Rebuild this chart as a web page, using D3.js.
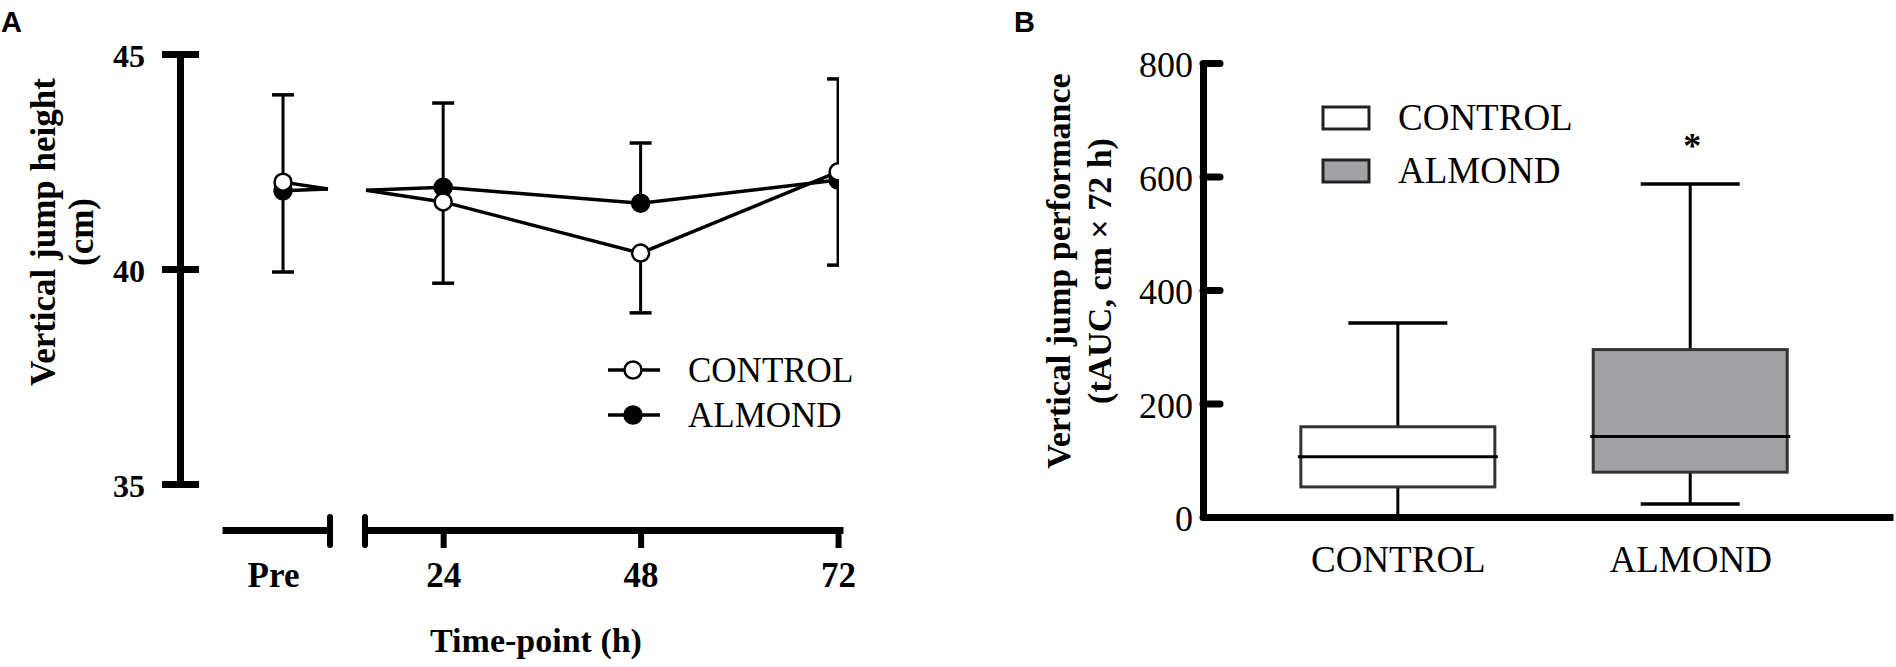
<!DOCTYPE html>
<html><head><meta charset="utf-8">
<script src="https://cdn.jsdelivr.net/npm/d3@7"></script>
<style>body{margin:0;background:#fff}svg{display:block}</style>
</head><body>
<svg id="c" width="1896" height="667"></svg>
<script>
// ---------- Panel A data ----------
const timeLabels = ["Pre", "24", "48", "72"];
const postHours = [24, 48, 72];
const controlMean = [42.02, 41.56, 40.37, 42.26];
const controlSDdown = [2.09, 1.89, 1.39, 2.17];
const almondMean = [41.82, 41.90, 41.53, 42.07];
const almondSDup = [2.23, 1.96, 1.40, 2.35];
const breakJoin = [41.86, 41.83];      // line value at left / right side of the axis break
const yTicksA = [35, 40, 45];
const seriesNames = ["CONTROL", "ALMOND"];

// ---------- Panel B data ----------
const groups = ["CONTROL", "ALMOND"];
const boxMin = [2, 23];
const boxQ1 = [53, 79];
const boxMedian = [106, 142];
const boxQ3 = [159, 295];
const boxMax = [342, 587];
const boxFill = ["#ffffff", "#a2a2a6"];
const sigMarks = ["", "*"];
const yTicksB = [0, 200, 400, 600, 800];

const svg = d3.select("#c");
const serif = "'Liberation Serif','Times New Roman',serif";
const sans = "'Liberation Sans',Arial,sans-serif";

// ================= PANEL A =================
const yA = d3.scaleLinear().domain([35, 45]).range([484, 54]);
const xPre = d3.scalePoint().domain(["Pre"]).range([222, 330]).align(0.565);
const xPost = d3.scaleLinear().domain([14.5, 72.6]).range([365, 843]);
const axisYA = 530;

svg.append("text").attr("x", 1).attr("y", 32).attr("font-family", sans)
  .attr("font-weight", "bold").attr("font-size", 29).text("A");

// y axis
const gya = svg.append("g").attr("transform", "translate(180,0)")
  .call(d3.axisLeft(yA).tickValues(yTicksA).tickSizeOuter(0).tickSizeInner(18).tickPadding(17));
gya.select(".domain").attr("stroke", "#000").attr("stroke-width", 7);
gya.selectAll(".tick line").attr("x1", 19).attr("x2", -18).attr("stroke", "#000").attr("stroke-width", 7);
gya.selectAll(".tick text").attr("font-family", serif).attr("font-weight", "bold")
  .attr("font-size", 32).attr("fill", "#000").attr("dy", "0.4em");

// x axis: Pre segment
const gxPre = svg.append("g").attr("transform", `translate(0,${axisYA})`)
  .call(d3.axisBottom(xPre).tickSizeOuter(0).tickSizeInner(0));
gxPre.select(".domain").attr("stroke", "#000").attr("stroke-width", 7);
gxPre.selectAll(".tick text").attr("font-family", serif).attr("font-weight", "bold")
  .attr("font-size", 35).attr("fill", "#000").attr("y", 57).attr("dy", 0).attr("dx", -10);
// x axis: hours segment
const gxPost = svg.append("g").attr("transform", `translate(0,${axisYA})`)
  .call(d3.axisBottom(xPost).tickValues(postHours).tickSizeOuter(0).tickSizeInner(18));
gxPost.select(".domain").attr("stroke", "#000").attr("stroke-width", 7);
gxPost.selectAll(".tick line").attr("stroke", "#000").attr("stroke-width", 6);
gxPost.selectAll(".tick text").attr("font-family", serif).attr("font-weight", "bold")
  .attr("font-size", 35).attr("fill", "#000").attr("y", 57).attr("dy", 0);
// break marks
[xPre.range()[1], xPost.range()[0]].forEach(x => {
  svg.append("line").attr("x1", x).attr("x2", x).attr("y1", axisYA - 13).attr("y2", axisYA + 15)
    .attr("stroke", "#000").attr("stroke-width", 6).attr("stroke-linecap", "round");
});

// axis titles
svg.append("text").attr("x", 536).attr("y", 652).attr("text-anchor", "middle")
  .attr("font-family", serif).attr("font-weight", "bold").attr("font-size", 34).text("Time-point (h)");
svg.append("text").attr("transform", "translate(55,232) rotate(-90)").attr("text-anchor", "middle")
  .attr("font-family", serif).attr("font-weight", "bold").attr("font-size", 35).text("Vertical jump height");
svg.append("text").attr("transform", "translate(93,232) rotate(-90)").attr("text-anchor", "middle")
  .attr("font-family", serif).attr("font-weight", "bold").attr("font-size", 35).text("(cm)");

// data
svg.append("clipPath").attr("id", "clipA").append("rect")
  .attr("x", 150).attr("y", 0).attr("width", 689).attr("height", 667);
const gA = svg.append("g").attr("clip-path", "url(#clipA)");
const xOf = i => i === 0 ? xPre("Pre") : xPost(postHours[i - 1]);
const line = d3.line().x(d => d[0]).y(d => yA(d[1]));

const series = [
  {name: "ALMOND", mean: almondMean, sd: almondSDup, dir: -1, fill: "#000"},
  {name: "CONTROL", mean: controlMean, sd: controlSDdown, dir: 1, fill: "#fff"}
];
// lines
series.forEach(s => {
  gA.append("path").attr("fill", "none").attr("stroke", "#000").attr("stroke-width", 3.5)
    .attr("d", line([[xOf(0), s.mean[0]], [xPre.range()[1] - 2, breakJoin[0]]]));
  const pts = [[xPost.range()[0] + 1, breakJoin[1]]].concat(postHours.map((h, i) => [xPost(h), s.mean[i + 1]]));
  gA.append("path").attr("fill", "none").attr("stroke", "#000").attr("stroke-width", 3.5)
    .attr("d", line(pts));
});
// error bars
series.forEach(s => {
  s.mean.forEach((m, i) => {
    const x = xOf(i), yEnd = yA(m - s.dir * s.sd[i]);
    gA.append("line").attr("x1", x).attr("x2", x).attr("y1", yA(m)).attr("y2", yEnd)
      .attr("stroke", "#000").attr("stroke-width", 3);
    gA.append("line").attr("x1", x - 11).attr("x2", x + 11).attr("y1", yEnd).attr("y2", yEnd)
      .attr("stroke", "#000").attr("stroke-width", 3.5);
  });
});
// points
series.forEach(s => {
  s.mean.forEach((m, i) => {
    gA.append("circle").attr("cx", xOf(i)).attr("cy", yA(m)).attr("r", 8.5)
      .attr("fill", s.fill).attr("stroke", "#000").attr("stroke-width", 2.5);
  });
});
// legend A
seriesNames.forEach((n, i) => {
  const y = 370 + i * 45;
  svg.append("line").attr("x1", 608).attr("x2", 660).attr("y1", y).attr("y2", y)
    .attr("stroke", "#000").attr("stroke-width", 3.5);
  svg.append("circle").attr("cx", 633).attr("cy", y).attr("r", 8.5)
    .attr("fill", i === 0 ? "#fff" : "#000").attr("stroke", "#000").attr("stroke-width", 2.5);
  svg.append("text").attr("x", 688).attr("y", y + 12).attr("font-family", serif)
    .attr("font-size", 35).text(n);
});

// ================= PANEL B =================
const yB = d3.scaleLinear().domain([0, 800]).range([517, 63]);
const xB = d3.scalePoint().domain(groups).range([1203, 1893]).padding(0.68).align(0.49);
const boxW = 194, capW = 99;

svg.append("text").attr("x", 1014).attr("y", 32).attr("font-family", sans)
  .attr("font-weight", "bold").attr("font-size", 29).text("B");

// boxes
groups.forEach((g, i) => {
  const cx = xB(g);
  svg.append("line").attr("x1", cx).attr("x2", cx).attr("y1", yB(boxQ3[i])).attr("y2", yB(boxMax[i]))
    .attr("stroke", "#000").attr("stroke-width", 3);
  svg.append("line").attr("x1", cx).attr("x2", cx).attr("y1", yB(boxQ1[i])).attr("y2", yB(boxMin[i]))
    .attr("stroke", "#000").attr("stroke-width", 3);
  [boxMax[i], boxMin[i]].forEach(v => {
    svg.append("line").attr("x1", cx - capW / 2).attr("x2", cx + capW / 2).attr("y1", yB(v)).attr("y2", yB(v))
      .attr("stroke", "#000").attr("stroke-width", 3.5);
  });
  svg.append("rect").attr("x", cx - boxW / 2).attr("y", yB(boxQ3[i])).attr("width", boxW)
    .attr("height", yB(boxQ1[i]) - yB(boxQ3[i])).attr("fill", boxFill[i])
    .attr("stroke", "#333").attr("stroke-width", 3);
  svg.append("line").attr("x1", cx - boxW / 2 - 3).attr("x2", cx + boxW / 2 + 3)
    .attr("y1", yB(boxMedian[i])).attr("y2", yB(boxMedian[i])).attr("stroke", "#000").attr("stroke-width", 3);
  if (sigMarks[i]) {
    svg.append("text").attr("x", cx + 2).attr("y", yB(boxMax[i]) - 26).attr("text-anchor", "middle")
      .attr("font-family", serif).attr("font-weight", "bold").attr("font-size", 36).text(sigMarks[i]);
  }
});

// axes B
const gyb = svg.append("g").attr("transform", "translate(1203,0)")
  .call(d3.axisLeft(yB).tickValues(yTicksB).tickSizeOuter(0).tickSizeInner(-17).tickPadding(10));
gyb.select(".domain").attr("stroke", "#000").attr("stroke-width", 7);
gyb.selectAll(".tick line").attr("stroke", "#000").attr("stroke-width", 7).attr("stroke-linecap", "round");
gyb.selectAll(".tick text").attr("font-family", serif).attr("font-size", 36).attr("fill", "#000").attr("dy", "0.38em");
const gxb = svg.append("g").attr("transform", "translate(0,517)")
  .call(d3.axisBottom(xB).tickSizeOuter(0).tickSizeInner(0));
gxb.select(".domain").attr("stroke", "#000").attr("stroke-width", 7);
gxb.selectAll(".tick text").attr("font-family", serif).attr("font-size", 37).attr("fill", "#000")
  .attr("y", 55).attr("dy", 0);

svg.append("text").attr("transform", "translate(1070,271) rotate(-90)").attr("text-anchor", "middle")
  .attr("font-family", serif).attr("font-weight", "bold").attr("font-size", 34).text("Vertical jump performance");
svg.append("text").attr("transform", "translate(1111,271) rotate(-90)").attr("text-anchor", "middle")
  .attr("font-family", serif).attr("font-weight", "bold").attr("font-size", 34).text("(tAUC, cm × 72 h)");

// legend B
groups.forEach((g, i) => {
  const base = 130 + i * 53;
  svg.append("rect").attr("x", 1323).attr("y", base - 23).attr("width", 46).attr("height", 22)
    .attr("fill", boxFill[i]).attr("stroke", "#222").attr("stroke-width", 3);
  svg.append("text").attr("x", 1398).attr("y", base).attr("font-family", serif).attr("font-size", 37).text(g);
});
</script>
</body></html>
